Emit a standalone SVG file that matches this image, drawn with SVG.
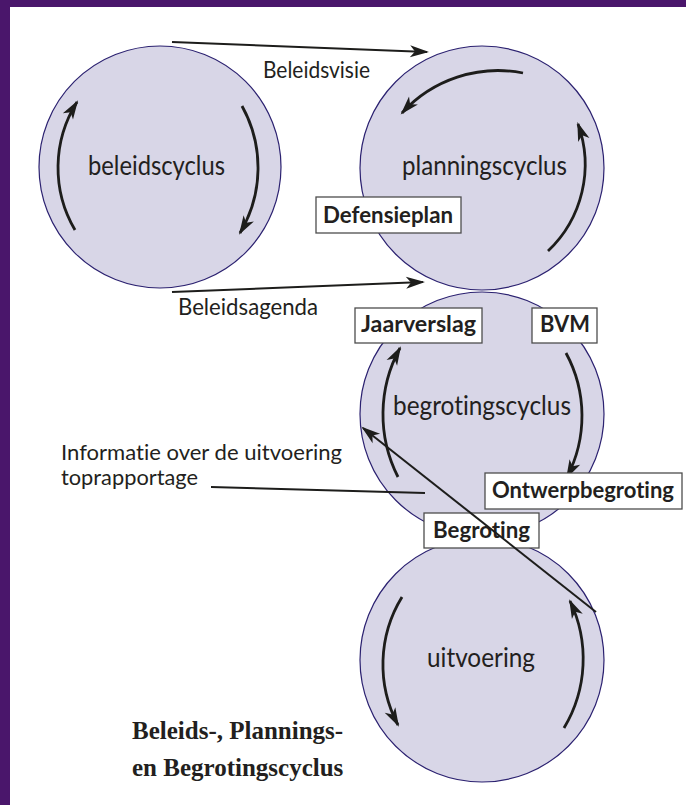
<svg xmlns="http://www.w3.org/2000/svg" width="686" height="805" viewBox="0 0 686 805">
<style>
text{font-variant-ligatures:none;font-feature-settings:"liga" 0,"clig" 0}
.cyc{fill:#d8d6e7;stroke:#2b2170;stroke-width:1.2}
.lbl{font-family:Lato,"Open Sans","DejaVu Sans",sans-serif;fill:#231f20}
.big{font-size:26px}
.mid{font-size:23px}
.sml{font-size:21.5px}
.box{fill:#ffffff;stroke:#4d4d4d;stroke-width:1.3}
.bt{font-family:Lato,"Open Sans","DejaVu Sans",sans-serif;font-weight:bold;font-size:23.5px;fill:#231f20}
.arc{fill:none;stroke:#1d1d1b;stroke-width:2.8;marker-end:url(#ah)}
.con{fill:none;stroke:#1d1d1b;stroke-width:2}
.cap{font-family:"Liberation Serif","Times New Roman",serif;font-weight:bold;font-size:25px;fill:#231f20}
</style>
<defs>
<marker id="ah" markerUnits="userSpaceOnUse" markerWidth="20" markerHeight="12" refX="17" refY="6" orient="auto" overflow="visible">
<path d="M0,0 L19,6 L0,12 L5,6 Z" fill="#1d1d1b"/>
</marker>
</defs>
<rect x="0" y="0" width="686" height="805" fill="#ffffff"/>
<rect x="0" y="0" width="686" height="7" fill="#4a166b"/>
<rect x="0" y="0" width="10" height="805" fill="#4a166b"/>

<g id="beleidscyclus">
<circle class="cyc" cx="160" cy="167" r="121"/>
<path class="arc" d="M75,230 A123,123 0 0 1 77,102"/>
<path class="arc" d="M242,106 A127,127 0 0 1 240,233"/>
<text class="lbl big" x="88" y="175" textLength="137" lengthAdjust="spacingAndGlyphs">beleidscyclus</text>
</g>

<g id="planningscyclus">
<circle class="cyc" cx="482" cy="168" r="122"/>
<path class="arc" d="M523,73 A130,130 0 0 0 402,113"/>
<path class="arc" d="M548,251 A119,119 0 0 0 578,124"/>
<text class="lbl big" x="402" y="175" textLength="165" lengthAdjust="spacingAndGlyphs">planningscyclus</text>
</g>

<g id="begrotingscyclus">
<circle class="cyc" cx="482" cy="414" r="122"/>
<path class="arc" d="M398,477 A138,138 0 0 1 400,348"/>
<path class="arc" d="M566,353 A132,132 0 0 1 567,477"/>
<text class="lbl big" x="393" y="415" textLength="178" lengthAdjust="spacingAndGlyphs">begrotingscyclus</text>
</g>

<g id="uitvoering">
<circle class="cyc" cx="482" cy="660" r="122"/>
<path class="arc" d="M402,597 A129,129 0 0 0 398,725"/>
<path class="arc" d="M564,728 A134,134 0 0 0 570,601"/>
<text class="lbl big" x="427" y="667" textLength="108" lengthAdjust="spacingAndGlyphs">uitvoering</text>
</g>

<g id="defensieplan">
<rect class="box" x="316" y="197" width="145" height="36"/>
<text class="bt" x="323" y="223" textLength="130" lengthAdjust="spacingAndGlyphs">Defensieplan</text>
</g>
<g id="jaarverslag">
<rect class="box" x="355" y="308" width="127" height="35"/>
<text class="bt" x="361" y="332" textLength="115" lengthAdjust="spacingAndGlyphs">Jaarverslag</text>
</g>
<g id="bvm">
<rect class="box" x="532" y="308" width="65" height="35"/>
<text class="bt" x="540" y="332" textLength="50" lengthAdjust="spacingAndGlyphs">BVM</text>
</g>
<g id="ontwerpbegroting">
<rect class="box" x="485" y="473" width="197" height="36"/>
<text class="bt" x="492" y="498" textLength="182" lengthAdjust="spacingAndGlyphs">Ontwerpbegroting</text>
</g>
<g id="begroting">
<rect class="box" x="424" y="513" width="115" height="35"/>
<text class="bt" x="433" y="538" textLength="97" lengthAdjust="spacingAndGlyphs">Begroting</text>
</g>

<g id="connectors">
<path class="con" d="M172,42 L427,52" marker-end="url(#ah)"/>
<path class="con" d="M172,292 L423,282" marker-end="url(#ah)"/>
<path class="con" d="M211,487 L425,493"/>
<path class="con" d="M596,612 L363,428" marker-end="url(#ah)"/>
</g>

<g id="connector-labels">
<text class="lbl mid" x="263" y="78" textLength="107" lengthAdjust="spacingAndGlyphs">Beleidsvisie</text>
<text class="lbl mid" x="178" y="315" textLength="140" lengthAdjust="spacingAndGlyphs">Beleidsagenda</text>
<text class="lbl sml" x="61" y="460" textLength="281" lengthAdjust="spacingAndGlyphs">Informatie over de uitvoering</text>
<text class="lbl sml" x="61" y="485" textLength="137" lengthAdjust="spacingAndGlyphs">toprapportage</text>
</g>

<g id="caption">
<text class="cap" x="132" y="739">Beleids-, Plannings-</text>
<text class="cap" x="132" y="776">en Begrotingscyclus</text>
</g>
</svg>
